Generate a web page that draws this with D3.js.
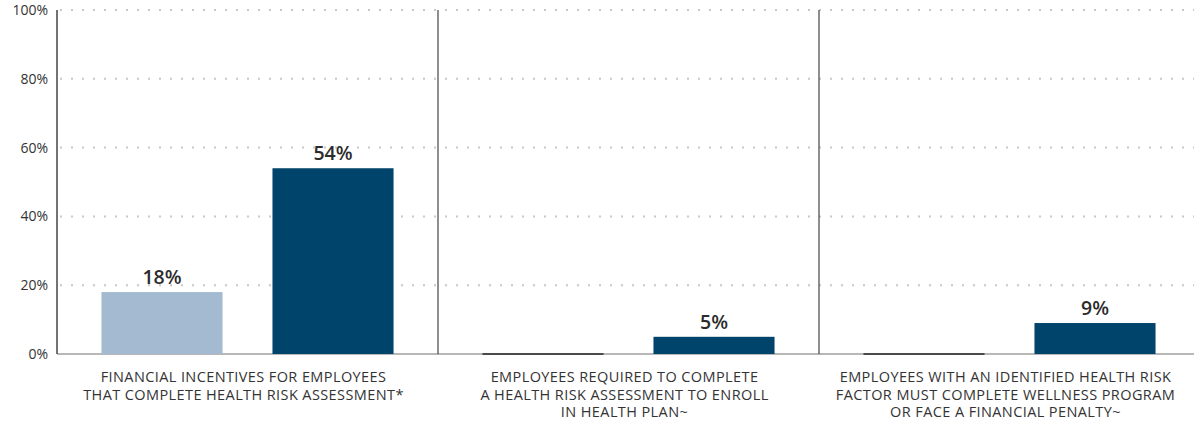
<!DOCTYPE html>
<html>
<head>
<meta charset="utf-8">
<script src="https://cdn.jsdelivr.net/npm/d3@7"></script>
<style>
  html, body { margin: 0; padding: 0; background: #fff; }
  svg { display: block; font-family: "Open Sans", "Noto Sans", sans-serif; }
</style>
</head>
<body>
<svg id="chart" width="1194" height="423"></svg>
<script>
// Share of employers using each health-risk policy, two survey groups per category
const categories = [
  ["FINANCIAL INCENTIVES FOR EMPLOYEES", "THAT COMPLETE HEALTH RISK ASSESSMENT*"],
  ["EMPLOYEES REQUIRED TO COMPLETE", "A HEALTH RISK ASSESSMENT TO ENROLL", "IN HEALTH PLAN~"],
  ["EMPLOYEES WITH AN IDENTIFIED HEALTH RISK", "FACTOR MUST COMPLETE WELLNESS PROGRAM", "OR FACE A FINANCIAL PENALTY~"]
];
const seriesKeys = ["first", "second"];
const firstValues = [18, null, null];
const secondValues = [54, 5, 9];
const yTicks = [0, 20, 40, 60, 80, 100];
const colors = { first: "#a3bad0", second: "#00446b" };

const svg = d3.select("#chart");
const plotLeft = 57, plotRight = 1200, plotTop = 10, plotBottom = 354;

const x0 = d3.scaleBand().domain(d3.range(categories.length)).range([plotLeft, plotRight]).paddingInner(0).paddingOuter(0);
const x1 = d3.scaleBand().domain(seriesKeys).range([0, x0.bandwidth()]).paddingInner(0.292).paddingOuter(0.26);
const y = d3.scaleLinear().domain([0, 100]).range([plotBottom, plotTop]);

// dotted gridlines
svg.append("g").selectAll("line").data(yTicks.filter(d => d > 0)).join("line")
  .attr("x1", plotLeft + 3).attr("x2", 1194)
  .attr("y1", d => y(d)).attr("y2", d => y(d))
  .attr("stroke", "#c8c8c8").attr("stroke-width", 2)
  .attr("stroke-dasharray", "2 9");

// baseline
svg.append("line")
  .attr("x1", plotLeft).attr("x2", 1194).attr("y1", y(0)).attr("y2", y(0))
  .attr("stroke", "#a0a0a0").attr("stroke-width", 1.5);

// y axis
const yAxis = d3.axisLeft(y).tickValues(yTicks).tickFormat(d => d + "%").tickSize(0).tickPadding(9);
const ya = svg.append("g").attr("transform", `translate(${plotLeft},0)`).call(yAxis);
ya.select(".domain").remove();
ya.attr("font-family", null).attr("font-size", null);
ya.selectAll("text").style("font-size", "14px").attr("fill", "#333");
svg.append("line").attr("x1", plotLeft).attr("x2", plotLeft).attr("y1", y(100)).attr("y2", y(0))
  .attr("stroke", "#444").attr("stroke-width", 1.5);

// group separators
svg.append("g").selectAll("line").data(d3.range(1, categories.length)).join("line")
  .attr("x1", i => x0(i)).attr("x2", i => x0(i))
  .attr("y1", y(100)).attr("y2", y(0))
  .attr("stroke", "#444").attr("stroke-width", 1.2);

const rows = categories.map((c, i) => ({ i, first: firstValues[i], second: secondValues[i] }));

const groups = svg.append("g").selectAll("g").data(rows).join("g")
  .attr("transform", d => `translate(${x0(d.i)},0)`);

groups.each(function(d) {
  const g = d3.select(this);
  seriesKeys.forEach(k => {
    const v = d[k];
    if (v == null) {
      // no data: dark rule along the baseline
      g.append("line")
        .attr("x1", x1(k)).attr("x2", x1(k) + x1.bandwidth())
        .attr("y1", y(0)).attr("y2", y(0))
        .attr("stroke", "#4a4a4a").attr("stroke-width", 2);
      return;
    }
    g.append("rect")
      .attr("x", x1(k)).attr("width", x1.bandwidth())
      .attr("y", y(v)).attr("height", y(0) - y(v))
      .attr("fill", colors[k]);
    g.append("text")
      .attr("x", x1(k) + x1.bandwidth() / 2).attr("y", y(v) - 8)
      .attr("text-anchor", "middle")
      .style("font-size", "19.5px").style("font-weight", 600).attr("fill", "#2b2b2b")
      .text(v + "%");
  });
  const t = g.append("text").attr("text-anchor", "middle")
    .style("font-size", "14.5px").style("letter-spacing", "0.4px").attr("fill", "#333");
  categories[d.i].forEach((line, j) => {
    t.append("tspan").attr("x", x0.bandwidth() / 2 - 4).attr("y", 382 + j * 17.5).text(line);
  });
});
</script>
</body>
</html>
